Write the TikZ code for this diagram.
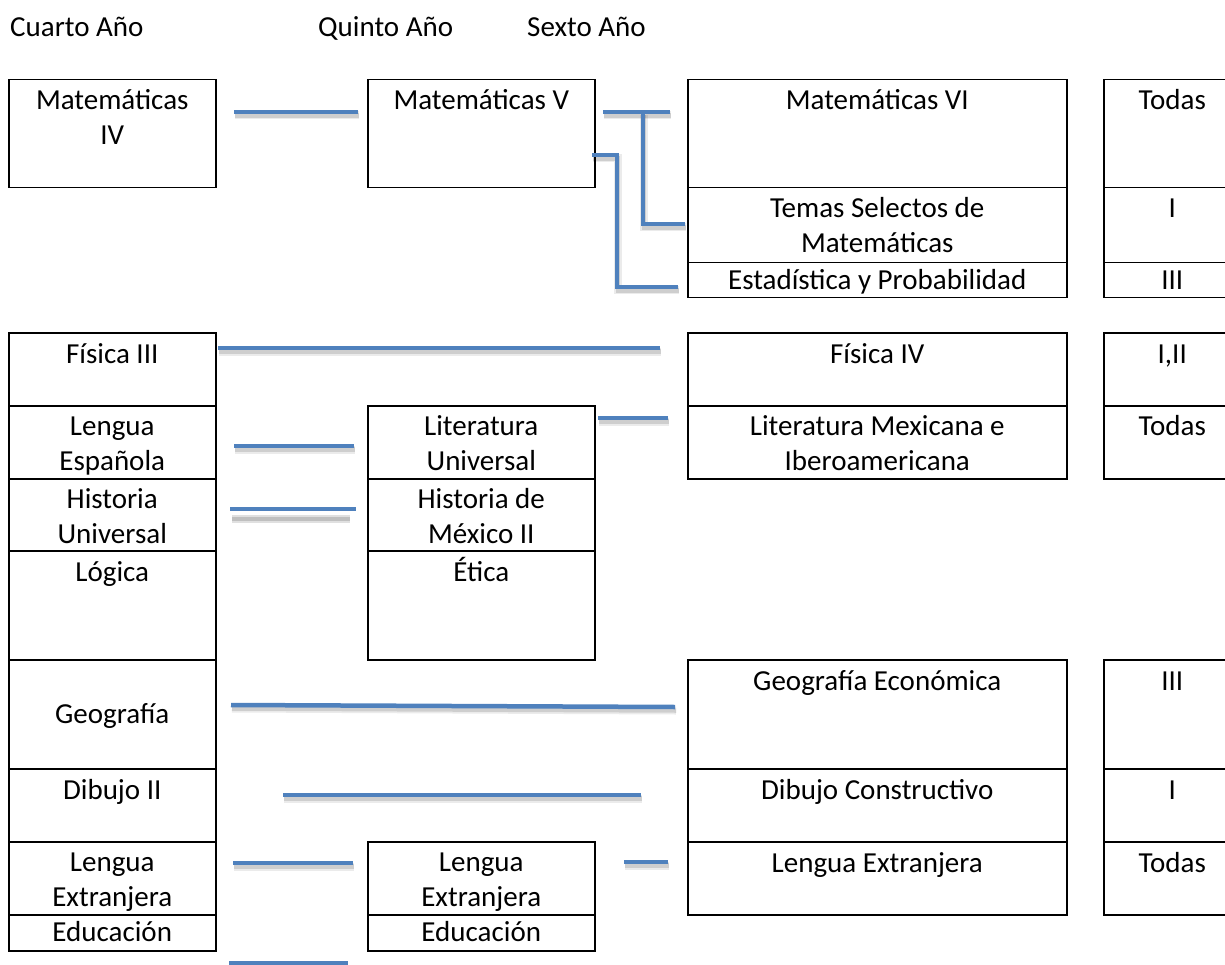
\documentclass[tikz,border=0pt]{standalone}
\usepackage{fontspec}
\setmainfont{Carlito}
\definecolor{lnblue}{HTML}{4F81BD}
\newcommand{\mkcell}[7][31]{%
  \node[cellbox, minimum width={(#5-#3)*1pt}, minimum height={(#6-#4)*1pt}, anchor=north west] (#2) at (#3,#4) {};
  \node[celltext] (#2t) at ([yshift=-#1pt]#2.north) {\begin{tabular}[t]{@{}c@{}}#7\end{tabular}};}
\newcommand{\connpath}[1]{\draw[connshadowa] #1; \draw[connshadowb] #1; \draw[conn] #1;}
\begin{document}
\begin{tikzpicture}[x=1pt,y=-1pt,
  cellbox/.style={draw=black, line width=1.5pt, inner sep=0pt, fill=none},
  celltext/.style={inner sep=0pt, anchor=base, font=\fontsize{29}{35}\selectfont},
  header/.style={inner sep=0pt, anchor=base west, font=\fontsize{29}{35}\selectfont},
  conn/.style={draw=lnblue, line width=4.5pt},
  connshadowa/.style={draw=black, opacity=0.08, line width=8pt, transform canvas={xshift=1pt,yshift=-3.5pt}},
  connshadowb/.style={draw=black, opacity=0.12, line width=4.5pt, transform canvas={xshift=1pt,yshift=-3.5pt}}]
\useasboundingbox (0,0) rectangle (1225,965);
% headers
\node[header] (h4) at (10,37) {Cuarto Año};
\node[header] (h5) at (318,37) {Quinto Año};
\node[header] (h6) at (527,37) {Sexto Año};
% column 1
\mkcell{m4}{8}{79}{215}{187}{Matemáticas\\IV}
\mkcell{f3}{8}{332}{215}{405}{Física III}
\mkcell[30]{le}{8}{405}{215}{478}{Lengua\\Española}
\mkcell[30]{hu}{8}{478}{215}{550}{Historia\\Universal}
\mkcell{lo}{8}{550}{215}{659}{Lógica}
\mkcell[64]{ge}{8}{659}{215}{768}{Geografía}
\mkcell{dd}{8}{768}{215}{841}{Dibujo II}
\mkcell[30]{lxa}{8}{841}{215}{914}{Lengua\\Extranjera}
\mkcell[27]{eda}{8}{914}{215}{950}{Educación}
% column 2
\mkcell{m5}{367}{79}{594}{187}{Matemáticas V}
\mkcell[30]{lu}{367}{405}{594}{478}{Literatura\\Universal}
\mkcell[30]{hm}{367}{478}{594}{550}{Historia de\\México II}
\mkcell{et}{367}{550}{594}{659}{Ética}
\mkcell[30]{lxb}{367}{841}{594}{914}{Lengua\\Extranjera}
\mkcell[27]{edb}{367}{914}{594}{950}{Educación}
% column 3
\mkcell{m6}{687}{79}{1066}{187}{Matemáticas VI}
\mkcell{ts}{687}{187}{1066}{262}{Temas Selectos de\\Matemáticas}
\mkcell[28]{ep}{687}{262}{1066}{297}{Estadística y Probabilidad}
\mkcell{ff}{687}{332}{1066}{405}{Física IV}
\mkcell[30]{lm}{687}{405}{1066}{478}{Literatura Mexicana e\\Iberoamericana}
\mkcell{gec}{687}{659}{1066}{768}{Geografía Económica}
\mkcell{dc}{687}{768}{1066}{841}{Dibujo Constructivo}
\mkcell{lxc}{687}{841}{1066}{914}{Lengua Extranjera}
% column 4
\mkcell{ra}{1103}{79}{1240}{187}{Todas}
\mkcell{rb}{1103}{187}{1240}{262}{I}
\mkcell[28]{rc}{1103}{262}{1240}{297}{III}
\mkcell{rd}{1103}{332}{1240}{405}{I,II}
\mkcell[30]{re}{1103}{405}{1240}{478}{Todas}
\mkcell{rf}{1103}{659}{1240}{768}{III}
\mkcell{rg}{1103}{768}{1240}{841}{I}
\mkcell{rh}{1103}{841}{1240}{914}{Todas}
% connector end points
\coordinate (a1) at (234,112); \coordinate (a2) at (358,112);
\coordinate (b1) at (603,112); \coordinate (b2) at (670,112);
\coordinate (b3) at (643,112); \coordinate (b4) at (643,224); \coordinate (b5) at (685,224);
\coordinate (c1) at (592,155); \coordinate (c2) at (617,155); \coordinate (c3) at (617,287); \coordinate (c4) at (678,287);
\coordinate (d1) at (218,348); \coordinate (d2) at (660,348);
\coordinate (e1) at (598,418); \coordinate (e2) at (668,418);
\coordinate (f1) at (234,446); \coordinate (f2) at (354,446);
\coordinate (g1) at (230,509); \coordinate (g2) at (356,509);
\coordinate (g3) at (232,519); \coordinate (g4) at (350,519);
\coordinate (k1) at (231,705); \coordinate (k2) at (675,707);
\coordinate (l1) at (283,795); \coordinate (l2) at (641,795);
\coordinate (n1) at (233,863); \coordinate (n2) at (353,863);
\coordinate (o1) at (624,862); \coordinate (o2) at (668,862);
\coordinate (p1) at (229,963); \coordinate (p2) at (348,963);
% connectors
\connpath{(a1) -- (a2)}
\connpath{(b1) -- (b2)}
\connpath{(b3) -- (b4) -- (b5)}
\connpath{(c1) -- (c2) -- (c3) -- (c4)}
\connpath{(d1) -- (d2)}
\connpath{(e1) -- (e2)}
\connpath{(f1) -- (f2)}
\draw[draw=black, opacity=0.12, line width=8pt] (g3) -- (g4);
\draw[draw=black, opacity=0.15, line width=4.5pt] (g3) -- (g4);
\draw[conn] (g1) -- (g2);
\connpath{(k1) -- (k2)}
\connpath{(l1) -- (l2)}
\connpath{(n1) -- (n2)}
\connpath{(o1) -- (o2)}
\draw[conn] (p1) -- (p2);
\end{tikzpicture}
\end{document}
